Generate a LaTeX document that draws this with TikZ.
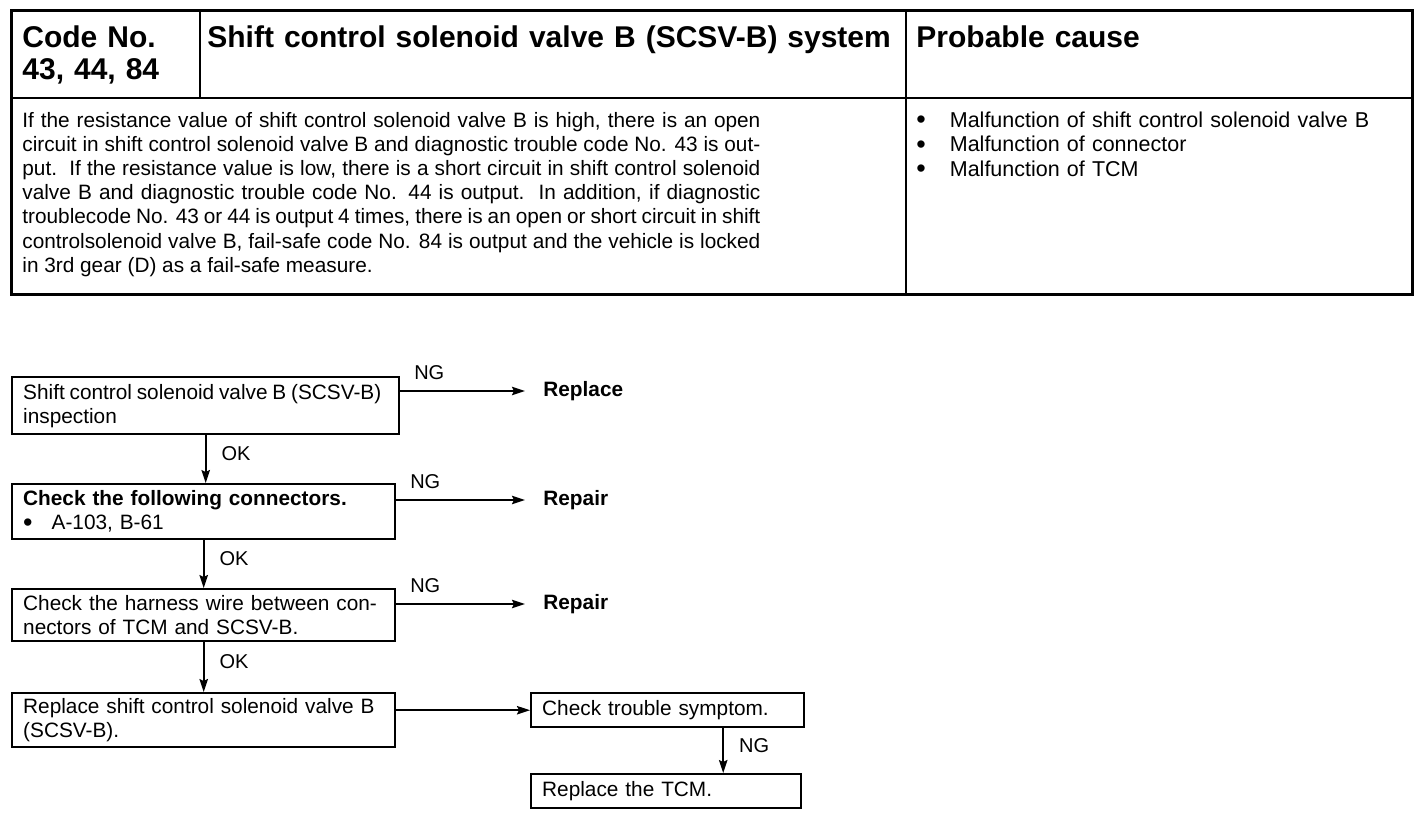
\documentclass[tikz,border=0pt]{standalone}
\usepackage{fontspec}
\setmainfont{Liberation Sans}
\usetikzlibrary{arrows.meta}

\newcommand\hdrfont{\fontsize{15}{16}\selectfont\bfseries}
\newcommand\bodyfont{\fontsize{10.4}{12.1}\selectfont}
\newcommand\listfont{\fontsize{10.75}{12.25}\selectfont\spaceskip=4.6pt plus 1pt}
\newcommand\flowfont{\fontsize{10.4}{12}\selectfont}
\newcommand\lblfont{\fontsize{10}{12}\selectfont}
\newcommand\bigdot{\smash{\raisebox{-0.9pt}{\fontsize{13.5}{12}\selectfont\textbullet}}}

\tikzset{
  hdr/.style={anchor=base west, inner sep=0pt, font=\hdrfont, text width=#1, align=left},
  body/.style={anchor=base west, inner sep=0pt, font=\bodyfont, text width=#1, align=justify},
  flowbox/.style={draw, line width=1.2pt, anchor=north west, inner xsep=5.5pt, inner ysep=0pt,
    font=\flowfont, text width=#1, align=left},
  result/.style={anchor=west, inner xsep=9pt, inner ysep=0pt, font=\flowfont\bfseries},
  arr/.style={line width=0.9pt, -{Stealth[length=6.5pt, width=4.2pt, inset=1pt]}},
  ng/.style={at start, anchor=south west, inner sep=0pt, xshift=6.5pt, yshift=5pt, font=\lblfont},
  ok/.style={midway, anchor=west, inner sep=0pt, xshift=7.5pt, yshift=2.8pt, font=\lblfont}
}

\begin{document}
\begin{tikzpicture}[x=0.5pt, y=-0.5pt]
\useasboundingbox (0,0) rectangle (1424,816);
% table
\draw[line width=1.5pt] (11,10) rectangle (1412,294);
\draw[line width=1.1pt] (11,98) -- (1412,98);
\draw[line width=1.1pt] (200,10) -- (200,98);
\draw[line width=1.1pt] (906,10) -- (906,294);
\node[hdr=170pt] (code) at (22,47) {Code No.\\43, 44, 84};
\node[hdr=345pt] (system) at (207,47) {Shift control solenoid valve B (SCSV-B) system};
\node[hdr=240pt] (cause) at (916,47) {Probable cause};
\node[body=369pt] (desc) at (22,127) {\hyphenpenalty=10000 If the resistance value of shift control solenoid valve B is high, there is an open\linebreak
circuit in shift control solenoid valve B and diagnostic trouble code No. 43 is out-\linebreak
put.\ \ If the resistance value is low, there is a short circuit in shift control solenoid\linebreak
valve B and diagnostic trouble code No. 44 is output.\ \ In addition, if diagnostic\linebreak
troublecode No. 43 or 44 is output 4 times, there is an open or short circuit in shift\linebreak
controlsolenoid valve B, fail-safe code No. 84 is output and the vehicle is locked\linebreak
in 3rd gear (D) as a fail-safe measure.};
\node[anchor=base west, inner sep=0pt, font=\listfont, text width=245pt, align=left] (causes) at (916,127)
  {\bigdot\hspace{12pt}Malfunction of shift control solenoid valve B\\
   \bigdot\hspace{12pt}Malfunction of connector\\
   \bigdot\hspace{12pt}Malfunction of TCM};

% flow chart
\node[flowbox=182.5pt, minimum height=28.5pt] (insp) at (11,376) {\mbox{\spaceskip=2.4pt Shift control solenoid valve B (SCSV-B)}\\inspection};
\node[flowbox=180.5pt, minimum height=27.5pt] (conn) at (11,483) {\textbf{Check the following connectors.}\\\bigdot\hspace{9.5pt}A-103, B-61};
\node[flowbox=180.5pt, minimum height=26pt] (harn) at (11,588) {Check the harness wire between con-\\nectors of TCM and SCSV-B.};
\node[flowbox=180.5pt, minimum height=27pt] (repl) at (11,692) {Replace shift control solenoid valve B\\(SCSV-B).};
\node[flowbox=125.5pt, minimum height=17pt] (sympt) at (530,692) {Check trouble symptom.};
\node[flowbox=124pt, minimum height=17pt] (tcm) at (530,773) {Replace the TCM.};
\node[result] (replace) at (525,391) {Replace};
\node[result] (repair1) at (525,500) {Repair};
\node[result] (repair2) at (525,604) {Repair};

\draw[arr] (replace.west -| insp.east) -- node[ng] {NG} (replace.west);
\draw[arr] (repair1.west -| conn.east) -- node[ng] {NG} (repair1.west);
\draw[arr] (repair2.west -| harn.east) -- node[ng] {NG} (repair2.west);
\draw[arr] (insp.south) -- node[ok] {OK} (insp.south |- conn.north);
\draw[arr] (conn.south) -- node[ok] {OK} (conn.south |- harn.north);
\draw[arr] (harn.south) -- node[ok] {OK} (harn.south |- repl.north);
\draw[arr] (sympt.west -| repl.east) -- (sympt.west);
\draw[arr] ([xshift=27.75pt]sympt.south) -- node[ok] {NG} ([xshift=27.75pt]sympt.south |- tcm.north);
\end{tikzpicture}
\end{document}
